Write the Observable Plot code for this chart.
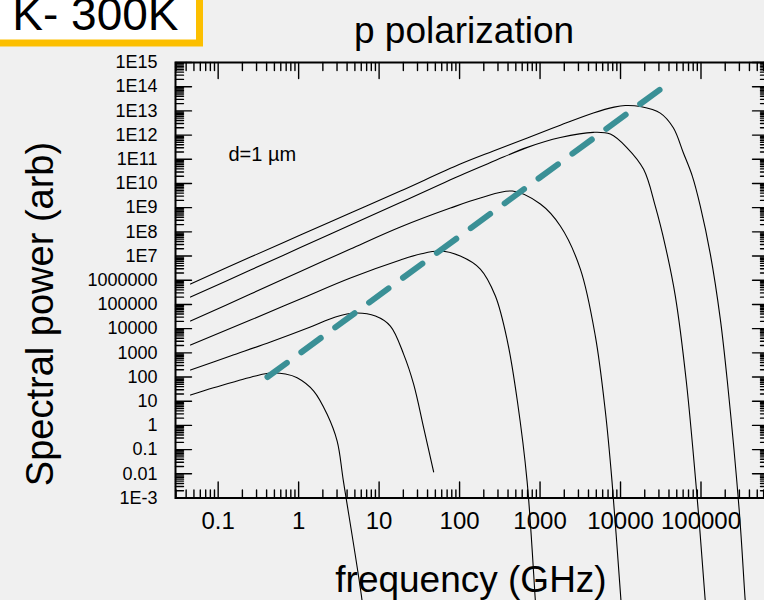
<!DOCTYPE html>
<html><head><meta charset="utf-8">
<script src="https://cdn.jsdelivr.net/npm/d3@7"></script>
<script src="https://cdn.jsdelivr.net/npm/@observablehq/plot@0.6"></script>
<style>
html,body{margin:0;padding:0;background:#f0f0f0;}
#chart{position:relative;width:764px;height:600px;overflow:hidden;}
</style></head><body><div id="chart"></div>
<script>
// ---- data ----
const freq1  = [0.0453, 0.0875, 0.172, 0.290, 0.447, 0.686, 0.957, 1.54, 2.26, 3.01, 3.60, 6.15, 6.56];
const power1 = [18.0, 36.0, 68.4, 110, 146, 133, 93.5, 26.4, 2.88, 0.226, 5.0e-3, 5.5e-8, 5.1e-9];
const freq2  = [0.0453, 0.142, 0.447, 1.40, 2.87, 5.08, 9.0, 13.8, 20.2, 26.9, 35.8, 47.6];
const power2 = [194.5, 738, 2790, 1.16e4, 3.01e4, 4.42e4, 3.32e4, 1.28e4, 867, 49.9, 0.80, 0.0119];
const freq3  = [0.0453, 0.252, 1.05, 4.40, 18.4, 32.6, 57.7, 102, 181, 278.6, 392.6, 522.4, 690, 875, 926];
const power3 = [2.10e3, 2.26e4, 1.67e5, 1.23e6, 6.84e6, 1.21e7, 1.61e7, 1.0e7, 2.9e6, 2.22e5, 3.08e3, 10.2, 5.0e-3, 5.5e-8, 3.2e-9];
const freq4  = [0.0453, 0.252, 1.05, 4.40, 18.4, 76.9, 181, 453, 1009, 1786, 3170, 4864, 6471, 7834, 10140, 10840];
const power4 = [2.06e4, 2.69e5, 2.29e6, 1.95e7, 1.58e8, 9.6e8, 2.49e9, 4.85e9, 1.41e9, 1.74e8, 2.9e6, 4.94e3, 3.94, 5.0e-3, 5.5e-8, 3.2e-9];
const freq5  = [0.0453, 0.252, 1.05, 4.40, 18.4, 102, 263, 695, 1786, 4592, 7464, 12050, 19360, 27040, 36060, 47970, 65620, 92500, 113000, 119700];
const power5 = [2.02e5, 2.64e6, 2.24e7, 1.91e8, 1.63e9, 2.16e10, 8.2e10, 3.1e11, 7.9e11, 1.3e12, 1.1e12, 2.99e11, 3.83e10, 1.16e9, 2.59e7, 2.22e5, 68.4, 2.9e-4, 5.5e-8, 5.1e-9];
const freq6  = [0.0453, 0.252, 1.05, 4.40, 18.4, 102, 263, 695, 1786, 4592, 8320, 11480, 17620, 31200, 45300, 60300, 78000, 98000, 130600, 173800, 212300, 299000, 354800, 376000];
const power6 = [6.97e5, 9.1e6, 7.38e7, 5.98e8, 4.85e9, 6.34e10, 2.2e11, 7.6e11, 2.56e12, 8.2e12, 1.43e13, 1.67e13, 1.51e13, 8.11e12, 2.0e12, 1.86e11, 2.02e10, 1.16e9, 1.21e7, 2.49e4, 68.4, 2.9e-4, 5.5e-8, 5.1e-9];

const peakLineFreq  = [0.41, 31200];
const peakLinePower = [100, 7.8e13];

const xMajorTicks = [0.1, 1, 10, 100, 1000, 10000, 100000];
const xTickLabels = ["0.1", "1", "10", "100", "1000", "10000", "100000"];
const yMajorTicks = [1e-3,1e-2,1e-1,1,1e1,1e2,1e3,1e4,1e5,1e6,1e7,1e8,1e9,1e10,1e11,1e12,1e13,1e14,1e15];
const yTickLabels = ["1E-3","0.01","0.1","1","10","100","1000","10000","100000","1000000","1E7","1E8","1E9","1E10","1E11","1E12","1E13","1E14","1E15"];

const titleText = "p polarization";
const xLabelText = "frequency (GHz)";
const yLabelText = "Spectral power (arb)";
const noteText = "d=1 µm";
const boxText = "1 K- 300K";

// ---- build tables ----
const curves = [[freq1,power1],[freq2,power2],[freq3,power3],[freq4,power4],[freq5,power5],[freq6,power6]];
const curveRows = curves.flatMap(([f,p], k) => f.map((fi, i) => ({curve: k, f: fi, p: p[i]})));
const peakRows = peakLineFreq.map((f, i) => ({f, p: peakLinePower[i]}));

const xDomain = [0.0295, 6.9e5];
const minorX = [];
for (let e = -2; e <= 5; e++) for (let m = 2; m <= 9; m++) { const v = m * Math.pow(10, e); if (v > xDomain[0] && v < xDomain[1]) minorX.push(v); }
const minorY = [];
for (let e = -3; e <= 14; e++) for (let m = 2; m <= 9; m++) minorY.push(m * Math.pow(10, e));

const tickShape = {draw(ctx, l) { ctx.moveTo(0, 0); ctx.lineTo(0, -l); }};
const tk = (data, opts) => Plot.vector(data, {anchor: "start", shape: tickShape, stroke: "black", strokeWidth: 1.4, ...opts});

const chart = Plot.plot({
  width: 764, height: 600,
  marginLeft: 175, marginRight: -4, marginTop: 62, marginBottom: 102.5,
  style: {background: "#f0f0f0", fontFamily: "'Liberation Sans', Arial, sans-serif", color: "black"},
  x: {type: "log", domain: xDomain, axis: null},
  y: {type: "log", domain: [1e-3, 1e15], axis: null},
  marks: [
    Plot.line(curveRows, {x: "f", y: "p", z: "curve", stroke: "black", strokeWidth: 1.1, curve: "catmull-rom"}),
    Plot.line(peakRows, {x: "f", y: "p", stroke: "#3a9096", strokeWidth: 6, strokeDasharray: "24,18"}),
    // ticks (inward) on all four sides
    tk(xMajorTicks, {x: d => d, frameAnchor: "bottom", rotate: 0, length: 16}),
    tk(minorX, {x: d => d, frameAnchor: "bottom", rotate: 0, length: 8}),
    tk(xMajorTicks, {x: d => d, frameAnchor: "top", rotate: 180, length: 16}),
    tk(minorX, {x: d => d, frameAnchor: "top", rotate: 180, length: 8}),
    tk(yMajorTicks, {y: d => d, frameAnchor: "left", rotate: 90, length: 16}),
    tk(minorY, {y: d => d, frameAnchor: "left", rotate: 90, length: 8}),
    tk(yMajorTicks, {y: d => d, frameAnchor: "right", rotate: -90, length: 16}),
    tk(minorY, {y: d => d, frameAnchor: "right", rotate: -90, length: 8}),
    Plot.frame({stroke: "black", strokeWidth: 2}),
    // tick labels
    Plot.text(xMajorTicks, {x: d => d, text: (d, i) => xTickLabels[i], frameAnchor: "bottom", dy: 31, fontSize: 24}),
    Plot.text(yMajorTicks, {y: d => d, text: (d, i) => yTickLabels[i], frameAnchor: "left", dx: -18, textAnchor: "end", fontSize: 18}),
    Plot.text([noteText], {frameAnchor: "top-left", dx: 53, dy: 84, text: d => d, fontSize: 20, textAnchor: "start"})
  ]
});

document.getElementById("chart").appendChild(chart);

// titles, axis labels and the corner box
const svg = d3.select(chart);
const ff = "'Liberation Sans', Arial, sans-serif";
svg.append("text").attr("x", 464).attr("y", 43).attr("text-anchor", "middle")
  .attr("font-size", 37).attr("font-family", ff).attr("fill", "black").text(titleText);
svg.append("text").attr("x", 471).attr("y", 592).attr("text-anchor", "middle")
  .attr("font-size", 37).attr("font-family", ff).attr("fill", "black").text(xLabelText);
svg.append("text").attr("transform", "translate(53,314) rotate(-90)").attr("text-anchor", "middle")
  .attr("font-size", 38).attr("font-family", ff).attr("fill", "black").text(yLabelText);
svg.append("rect").attr("x", -20).attr("y", -20).attr("width", 219.5).attr("height", 63)
  .attr("fill", "white").attr("stroke", "#fcbf00").attr("stroke-width", 7);
svg.append("text").attr("x", 178.5).attr("y", 30).attr("text-anchor", "end")
  .attr("font-size", 46).attr("font-family", ff).attr("fill", "black").text(boxText);
</script></body></html>
